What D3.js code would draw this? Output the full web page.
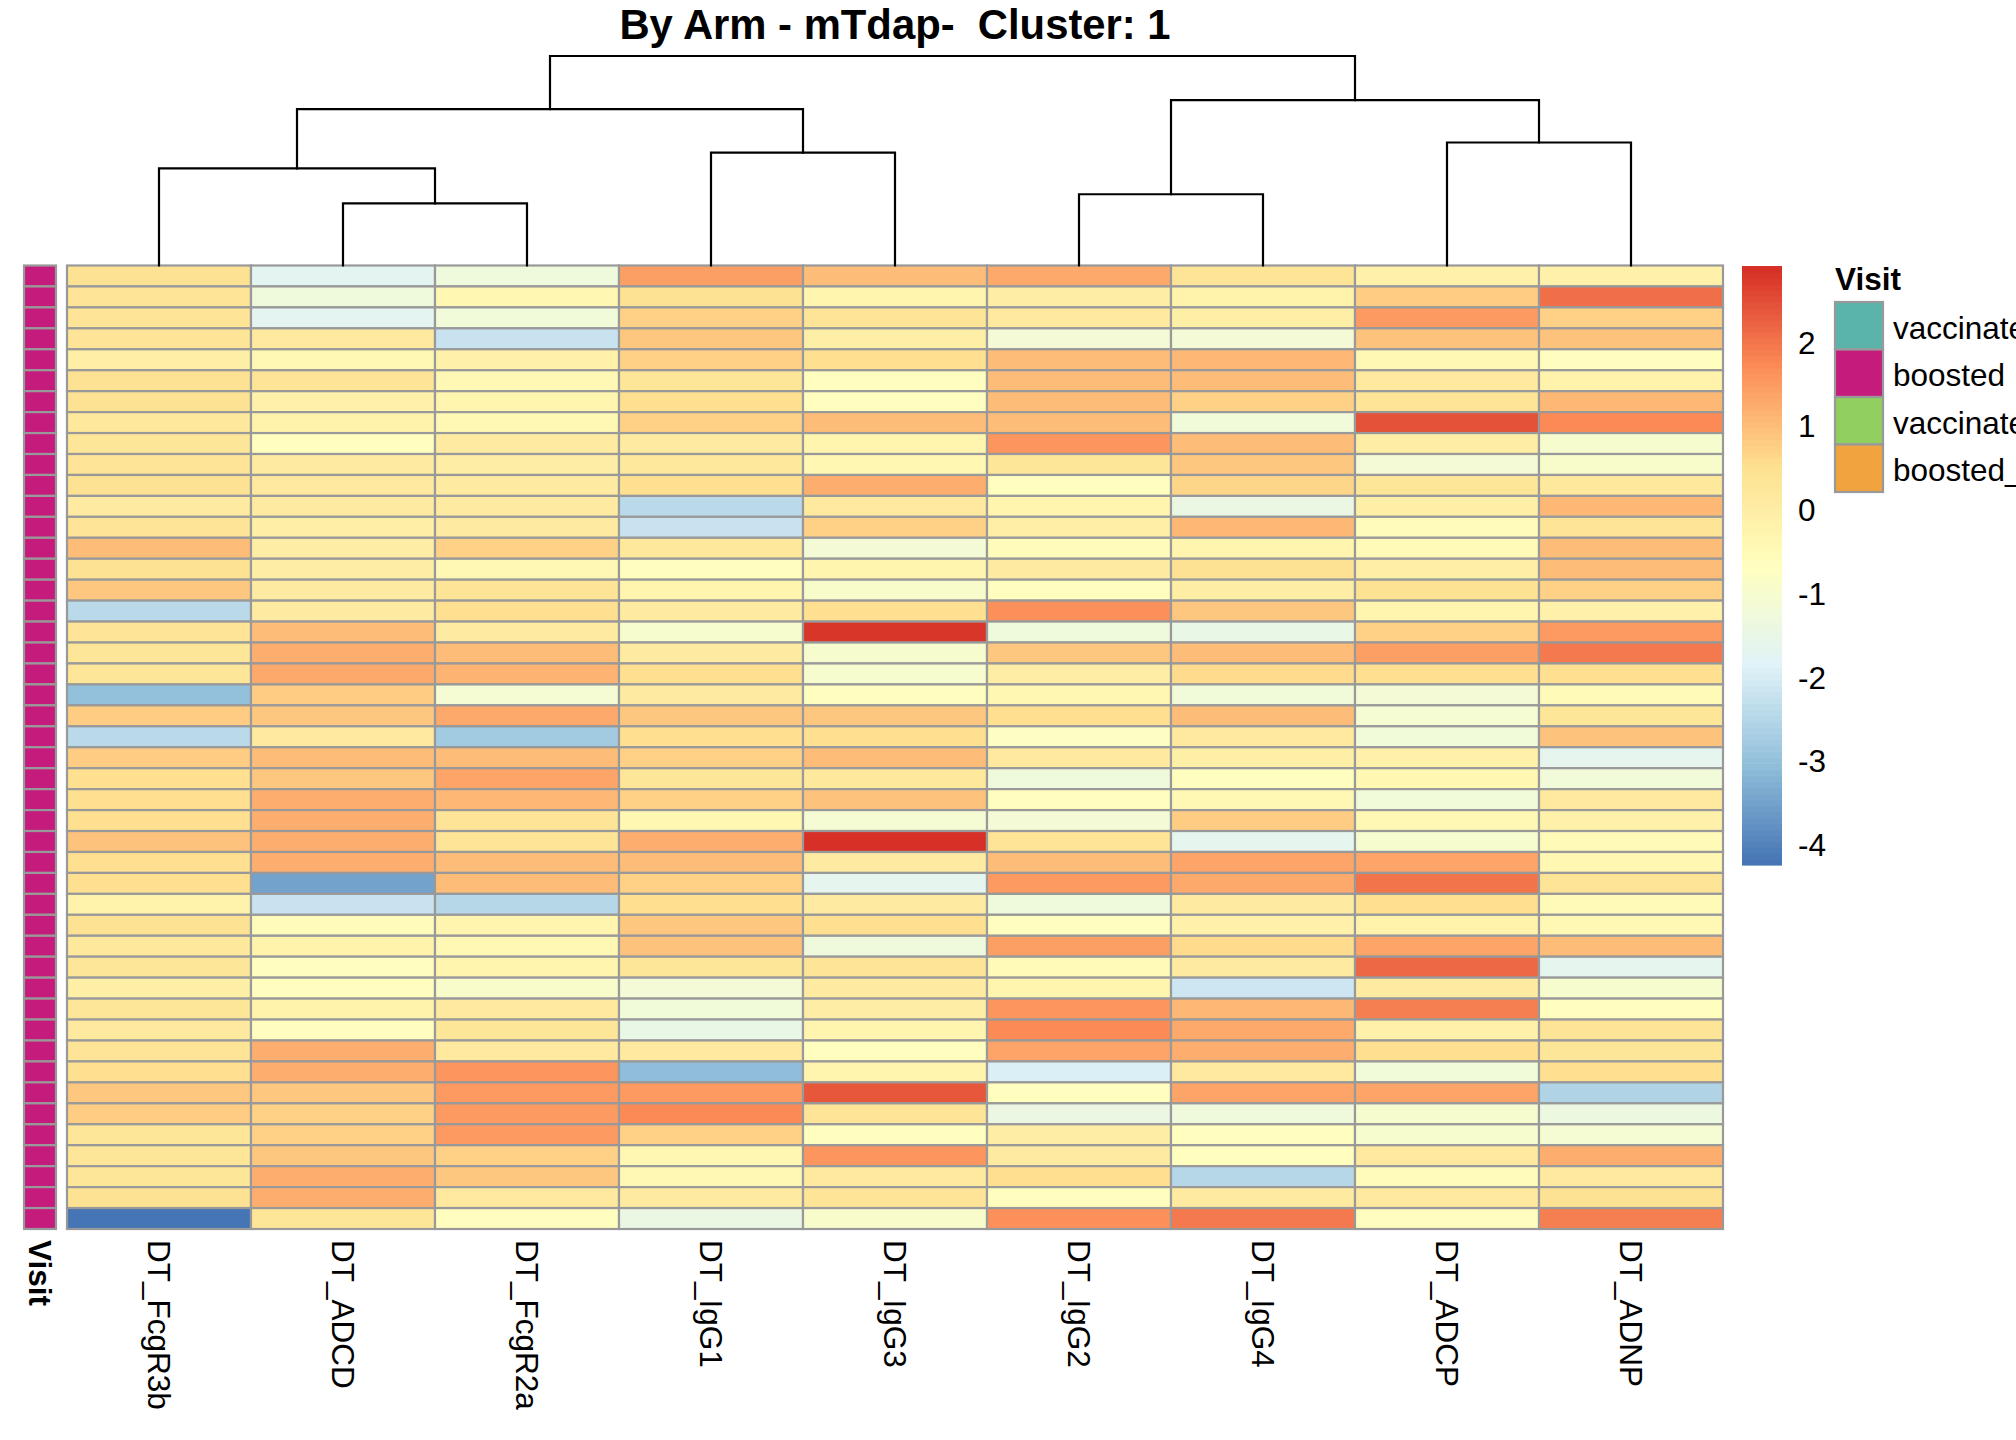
<!DOCTYPE html>
<html>
<head>
<meta charset="utf-8">
<script src="https://cdn.jsdelivr.net/npm/d3@7"></script>
<style>
  html, body { margin: 0; padding: 0; background: #ffffff; overflow: hidden; }
  svg { display: block; font-family: "Liberation Sans", Arial, sans-serif; }
</style>
</head>
<body>
<svg id="chart" width="2016" height="1440"></svg>
<script>
// ---------------- data ----------------
const chartTitle = "By Arm - mTdap-  Cluster: 1";
const columns = ["DT_FcgR3b", "DT_ADCD", "DT_FcgR2a", "DT_IgG1", "DT_IgG3", "DT_IgG2", "DT_IgG4", "DT_ADCP", "DT_ADNP"];

const DT_FcgR3b = [0.45,0.4,0.4,0.4,-0.05,0.45,0.45,0.25,0.3,0.35,0.45,0.1,0.35,1.0,0.45,0.9,-2.45,0.4,0.3,0.3,-3.0,0.8,-2.4,0.8,0.5,0.5,0.5,0.95,0.55,0.5,-0.2,0.45,0.25,0.3,-0.05,0.3,0.15,0.35,0.5,0.85,0.8,0.3,0.3,0.3,0.45,-4.24];
const DT_ADCD   = [-1.7,-1.3,-1.7,0.15,-0.4,0.35,-0.1,-0.2,-0.6,0.1,0.15,0.05,-0.05,0.0,0.0,0.05,0.1,1.05,1.2,1.3,0.8,0.9,0.15,1.05,0.9,1.2,1.25,1.2,1.25,-3.5,-2.2,-0.55,-0.2,-0.6,-0.65,-0.2,-0.6,1.2,1.2,0.9,0.75,0.75,0.85,1.2,1.2,0.3];
const DT_FcgR2a = [-1.3,-0.35,-1.2,-2.2,-0.1,-0.4,-0.25,-0.45,0.05,0.0,0.05,0.05,0.05,0.7,-0.45,0.35,0.5,0.1,1.05,1.15,-1.05,1.3,-2.75,1.05,1.4,1.1,0.35,0.35,1.05,1.05,-2.5,-0.3,-0.4,-0.3,-0.95,0.15,0.3,0.15,1.6,1.5,1.55,1.5,0.7,0.85,0.15,-0.6];
const DT_IgG1   = [1.45,0.45,0.7,0.85,0.7,0.3,0.55,0.75,0.1,0.2,0.55,-2.45,-2.2,0.2,-0.6,-0.25,0.05,-1.0,0.1,0.55,0.05,0.9,0.55,0.7,0.3,0.7,-0.35,1.2,1.05,0.7,0.5,0.85,0.95,0.3,-1.15,-1.2,-1.5,0.15,-3.05,1.5,1.75,0.7,-0.35,-0.45,0.05,-1.4];
const DT_IgG3   = [1.0,-0.3,0.35,-0.05,0.5,-0.6,-0.6,1.05,-0.3,-0.35,1.25,0.15,0.75,-1.1,-0.25,-0.9,0.5,2.82,-1.0,-1.0,-0.65,0.85,0.5,1.0,0.25,0.95,-1.05,2.91,0.05,-1.6,0.05,0.5,-1.25,0.4,0.05,0.0,-0.3,-0.65,-0.3,2.35,0.4,-0.6,1.6,0.15,0.4,-0.9];
const DT_IgG2   = [1.3,0.0,0.15,-1.1,1.05,1.0,1.05,1.0,1.6,0.3,-0.6,-0.3,-0.05,-0.55,0.05,-0.6,1.65,-1.3,0.9,0.0,-0.35,0.5,-0.75,0.15,-1.3,-0.6,-1.15,0.35,1.0,1.5,-1.3,-0.65,1.45,-0.5,-0.25,1.6,1.7,1.4,-1.9,-0.65,-1.4,0.0,0.05,0.5,-0.65,1.65];
const DT_IgG4   = [0.35,-0.2,-0.05,-1.1,1.1,1.05,0.75,-1.2,1.0,0.9,0.65,-1.45,1.1,-0.25,0.45,0.0,0.9,-1.5,1.05,0.6,-1.2,1.0,0.15,-0.05,-0.65,-0.4,0.8,-1.6,1.4,1.3,0.05,-0.1,0.6,0.05,-2.1,1.1,1.3,1.2,0.15,1.4,-1.3,-0.65,-0.6,-2.5,0.05,1.95];
const DT_ADCP   = [-0.1,0.8,1.55,0.95,-0.4,0.15,0.35,2.45,0.0,-1.1,0.3,-0.05,-0.55,-0.5,-0.05,0.45,-0.3,0.75,1.45,0.5,-1.1,-1.05,-1.2,-0.15,-0.35,-1.2,-0.45,-1.0,1.35,2.05,0.5,-0.2,1.4,2.15,0.05,1.85,-0.1,0.5,-1.2,1.4,-1.0,-1.0,0.15,-0.55,0.15,-0.6];
const DT_ADNP   = [-0.15,2.1,0.7,0.95,-0.65,-0.2,1.1,1.7,-1.0,-0.95,0.25,1.1,0.4,1.0,1.0,0.75,-0.15,1.55,1.95,0.5,-0.5,0.3,0.95,-1.6,-1.2,0.15,-0.1,-0.5,-0.35,0.4,-0.5,-0.45,1.0,-1.6,-1.0,-0.65,0.35,0.3,0.55,-2.55,-1.35,-1.05,1.25,0.15,0.45,1.9];

// Visit annotation of each row (all rows are "boosted")
const rowVisit = Array(46).fill("boosted");
const visitLevels = ["vaccinated", "boosted", "vaccinated_2", "boosted_2"];
const visitColors = ["#5AB4AC", "#C51B7D", "#91CF60", "#F1A340"];

// colour-bar ticks
const legendTicks = [2, 1, 0, -1, -2, -3, -4];

// column dendrogram: merges [childA, childB, height]; leaves 0..8, internal nodes 9..
const dendroMerges = [
  [1, 2, 2.97],   // 9
  [0, 9, 4.64],   // 10
  [3, 4, 5.39],   // 11
  [10, 11, 7.46], // 12
  [5, 6, 3.40],   // 13
  [7, 8, 5.87],   // 14
  [13, 14, 7.89], // 15
  [12, 15, 10.0]  // 16
];

// RdYlBu (7) reversed, as used by pheatmap
const paletteStops = ["#4575B4", "#91BFDB", "#E0F3F8", "#FFFFBF", "#FEE090", "#FC8D59", "#D73027"];

// ---------------- drawing ----------------
const seriesByColumn = [DT_FcgR3b, DT_ADCD, DT_FcgR2a, DT_IgG1, DT_IgG3, DT_IgG2, DT_IgG4, DT_ADCP, DT_ADNP];
const nRows = DT_FcgR3b.length;
const cells = [];
seriesByColumn.forEach((arr, ci) => arr.forEach((v, ri) => cells.push({col: columns[ci], row: ri, value: v})));

const svg = d3.select("#chart");
const font = '"Liberation Sans", Arial, sans-serif';

const hmLeft = 67, hmRight = 1723, hmTop = 265.5, hmBottom = 1229;
const x = d3.scaleBand().domain(columns).range([hmLeft, hmRight]);
const y = d3.scaleBand().domain(d3.range(nRows)).range([hmTop, hmBottom]);

const allVals = cells.map(d => d.value);
const vMin = d3.min(allVals), vMax = d3.max(allVals);
const nBins = 100;
const ramp = d3.scaleLinear()
  .domain(d3.range(paletteStops.length).map(i => i / (paletteStops.length - 1)))
  .range(paletteStops)
  .interpolate(d3.interpolateRgb);
const binColors = d3.range(nBins).map(i => ramp(i / (nBins - 1)));
const binScale = d3.scaleQuantize().domain([vMin, vMax]).range(binColors);

// heatmap cells
svg.append("g").selectAll("rect").data(cells).join("rect")
  .attr("x", d => x(d.col))
  .attr("y", d => y(d.row))
  .attr("width", x.bandwidth())
  .attr("height", y.bandwidth())
  .attr("fill", d => binScale(d.value))
  .attr("stroke", "#999999")
  .attr("stroke-width", 2.2);

// annotation column
const annX = 24, annW = 32;
const visitColor = d3.scaleOrdinal().domain(visitLevels).range(visitColors);
svg.append("g").selectAll("rect").data(rowVisit).join("rect")
  .attr("x", annX)
  .attr("y", (d, i) => y(i))
  .attr("width", annW)
  .attr("height", y.bandwidth())
  .attr("fill", d => visitColor(d))
  .attr("stroke", "#999999")
  .attr("stroke-width", 2.2);

// dendrogram
const treeY = d3.scaleLinear().domain([0, d3.max(dendroMerges, d => d[2])]).range([hmTop, 56]);
const nodeX = columns.map(c => x(c) + x.bandwidth() / 2);
const nodeH = columns.map(() => 0);
const segs = [];
dendroMerges.forEach(([a, b, h]) => {
  const xa = nodeX[a], xb = nodeX[b], yh = treeY(h);
  segs.push([[xa, treeY(nodeH[a])], [xa, yh], [xb, yh], [xb, treeY(nodeH[b])]]);
  nodeX.push((xa + xb) / 2);
  nodeH.push(h);
});
svg.append("g").selectAll("path").data(segs).join("path")
  .attr("d", d => d3.line()(d))
  .attr("fill", "none")
  .attr("stroke", "#000")
  .attr("stroke-width", 2.2)
  .attr("stroke-linecap", "square");

// title
svg.append("text")
  .attr("x", (hmLeft + hmRight) / 2)
  .attr("y", 39)
  .attr("text-anchor", "middle")
  .style("white-space", "pre")
  .attr("font-family", font)
  .attr("font-weight", "bold")
  .attr("font-size", 41.8)
  .text(chartTitle);

// column labels
svg.append("g").selectAll("text").data(columns).join("text")
  .attr("transform", d => `translate(${x(d) + x.bandwidth() / 2},1240) rotate(90)`)
  .attr("dy", "0.36em")
  .attr("font-family", font)
  .attr("font-size", 31.5)
  .text(d => d);

// "Visit" annotation label
svg.append("text")
  .attr("transform", `translate(${annX + annW / 2},1240) rotate(90)`)
  .attr("dy", "0.36em")
  .attr("font-family", font)
  .attr("font-weight", "bold")
  .attr("font-size", 31.5)
  .text("Visit");

// colour bar
const cbX = 1742, cbW = 40;
const cbY = d3.scaleLinear().domain([vMin, vMax]).range([865, 266]);
const binW = (vMax - vMin) / nBins;
svg.append("g").selectAll("rect").data(binColors).join("rect")
  .attr("x", cbX)
  .attr("y", (d, i) => cbY(vMin + (i + 1) * binW))
  .attr("width", cbW)
  .attr("height", (d, i) => cbY(vMin + i * binW) - cbY(vMin + (i + 1) * binW) + 0.6)
  .attr("fill", d => d);

svg.append("g").selectAll("text").data(legendTicks).join("text")
  .attr("x", 1798)
  .attr("y", d => cbY(d))
  .attr("dy", "0.36em")
  .attr("font-family", font)
  .attr("font-size", 31.5)
  .text(d => d);

// Visit legend
const legX = 1835, legTop = 302, keyW = 48, keyH = 47.5;
svg.append("text")
  .attr("x", legX)
  .attr("y", 290)
  .attr("font-family", font)
  .attr("font-weight", "bold")
  .attr("font-size", 31.5)
  .text("Visit");
const legKeys = svg.append("g").selectAll("g").data(visitLevels).join("g");
legKeys.append("rect")
  .attr("x", legX)
  .attr("y", (d, i) => legTop + i * keyH)
  .attr("width", keyW)
  .attr("height", keyH)
  .attr("fill", d => visitColor(d))
  .attr("stroke", "#999999")
  .attr("stroke-width", 2.2);
legKeys.append("text")
  .attr("x", legX + keyW + 10)
  .attr("y", (d, i) => legTop + i * keyH + keyH / 2 + 13)
  .attr("font-family", font)
  .attr("font-size", 31.5)
  .text(d => d);
</script>
</body>
</html>
